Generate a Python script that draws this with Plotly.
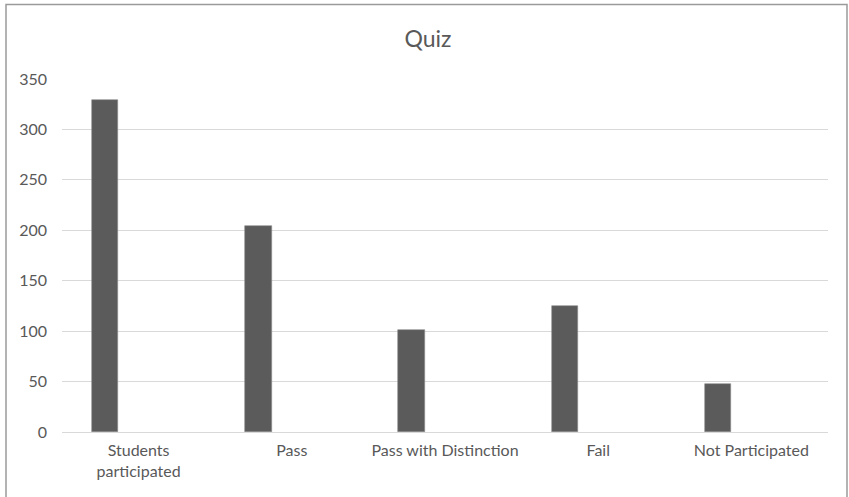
import plotly.graph_objects as go

# Quiz results by outcome
categories = ["Students<br>participated", "Pass", "Pass with Distinction", "Fail", "Not Participated"]
counts = [329, 204, 101, 125, 48]
y_ticks = [0, 50, 100, 150, 200, 250, 300, 350]

W, H = 849, 497
L, R, T, B = 62, 21, 79, 65

text_color = "#595959"
font_family = "Lato, 'Open Sans', sans-serif"

fig = go.Figure(
    go.Bar(
        x=categories,
        y=counts,
        width=0.172,
        offset=-0.304,
        marker=dict(color="#5b5b5b", line=dict(color="#8c8c8c", width=0.6)),
        hoverinfo="x+y",
    )
)

plot_w = W - L - R
plot_h = H - T - B

# Chart-area frame (left/top/right edges; bottom falls outside the page)
fig.add_shape(
    type="rect",
    xref="paper", yref="paper",
    x0=(6 - L) / plot_w, x1=(847 - L) / plot_w,
    y0=-0.5, y1=(H - B - 4.5) / plot_h,
    line=dict(color="#9a9a9a", width=1.5),
    fillcolor="rgba(0,0,0,0)",
    layer="below",
)

fig.update_layout(
    width=W, height=H,
    margin=dict(l=L, r=R, t=T, b=B, pad=0),
    paper_bgcolor="white",
    plot_bgcolor="white",
    showlegend=False,
    font=dict(family=font_family, color=text_color, size=16),
    title=dict(
        text="Quiz",
        x=(428 - L) / plot_w, xref="paper", xanchor="center",
        y=1 - 39 / H, yref="container", yanchor="middle",
        font=dict(size=23, color=text_color, family=font_family),
    ),
    xaxis=dict(
        type="category",
        range=[-0.5, len(categories) - 0.5],
        showgrid=False,
        showline=False,
        zeroline=False,
        ticks="",
        tickfont=dict(size=16, color=text_color),
        ticklabelstandoff=7,
        fixedrange=True,
    ),
    yaxis=dict(
        range=[0, 350],
        tickvals=y_ticks,
        showgrid=True,
        gridcolor="#d9d9d9",
        gridwidth=1,
        zeroline=True,
        zerolinecolor="#d9d9d9",
        zerolinewidth=1,
        showline=False,
        ticks="",
        tickfont=dict(size=16, color=text_color),
        ticklabelstandoff=14,
        fixedrange=True,
    ),
    bargap=0,
)

fig.write_html("out.html")
